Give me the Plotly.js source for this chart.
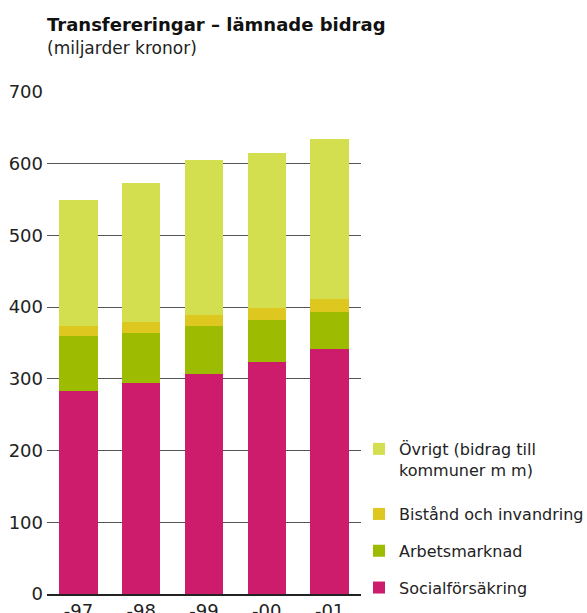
<!DOCTYPE html>
<html>
<head>
<meta charset="utf-8">
<script src="https://cdn.plot.ly/plotly-3.0.1.min.js"></script>
<style>
html,body{margin:0;padding:0;background:#fff;}
#chart{width:587px;height:613px;}
</style>
</head>
<body>
<div id="chart"></div>
<script>
var years = ["-97", "-98", "-99", "-00", "-01"];
var socialforsakring = [283, 294, 307, 324, 342];
var arbetsmarknad = [77, 70, 67, 58, 51];
var bistand = [14, 15, 15, 17, 18];
var ovrigt = [175, 194, 216, 216, 223];
var seriesNames = ["Socialförsäkring", "Arbetsmarknad", "Bistånd och invandring", "Övrigt (bidrag till<br>kommuner m m)"];
var seriesColors = ["#cd1c6c", "#9dbb00", "#dec81f", "#d3df4f"];
var yTicks = [0, 100, 200, 300, 400, 500, 600, 700];

var seriesValues = [socialforsakring, arbetsmarknad, bistand, ovrigt];
var traces = seriesValues.map(function(vals, i){
  return {
    type: "bar",
    x: years,
    y: vals,
    name: seriesNames[i],
    legend: i === 3 ? "legend2" : "legend",
    legendgroup: "g" + i,
    legendrank: 1000 - i,
    marker: {color: seriesColors[i], line: {width: 0}},
    hoverinfo: "x+y+name"
  };
});

var font = "DejaVu Sans, Verdana, sans-serif";
var legendBase = {
  x: 359 / 587, xref: "container", xanchor: "left",
  yref: "paper",
  traceorder: "grouped",
  tracegroupgap: 13,
  valign: "top",
  font: {family: font, size: 16, color: "#222"},
  bgcolor: "rgba(0,0,0,0)",
  borderwidth: 0
};
var layout = {
  width: 587,
  height: 613,
  barmode: "stack",
  bargap: 0.39,
  paper_bgcolor: "#fff",
  plot_bgcolor: "#fff",
  margin: {l: 47, r: 226, t: 92, b: 19, pad: 0, autoexpand: false},
  font: {family: font, color: "#222", size: 16},
  title: {
    text: "<b>Transfereringar – lämnade bidrag</b>",
    font: {family: font, size: 18, color: "#111"},
    xref: "paper", x: 0, xanchor: "left",
    yref: "container", y: 0.959, yanchor: "middle"
  },
  annotations: [{
    text: "(miljarder kronor)",
    xref: "paper", yref: "paper", x: 0, y: 1.088,
    xanchor: "left", yanchor: "middle", showarrow: false,
    xshift: -2,
    font: {family: font, size: 17, color: "#222"}
  }],
  xaxis: {
    type: "category",
    showgrid: false,
    showline: true,
    linecolor: "#222",
    linewidth: 1.5,
    ticks: "",
    tickfont: {family: font, size: 18, color: "#222"},
    fixedrange: true
  },
  yaxis: {
    range: [0, 700],
    tickvals: yTicks,
    ticktext: yTicks.map(String),
    showgrid: true,
    gridcolor: "#555",
    gridwidth: 1.2,
    zeroline: false,
    showline: false,
    ticks: "",
    ticklabelstandoff: 3,
    tickfont: {family: font, size: 18, color: "#222"},
    fixedrange: true
  },
  legend: Object.assign({}, legendBase, {y: -0.022, yanchor: "bottom"}),
  legend2: Object.assign({}, legendBase, {y: 0.3227, yanchor: "top"}),
  showlegend: true
};

Plotly.newPlot("chart", traces, layout, {displayModeBar: false, staticPlot: true});
</script>
</body>
</html>
